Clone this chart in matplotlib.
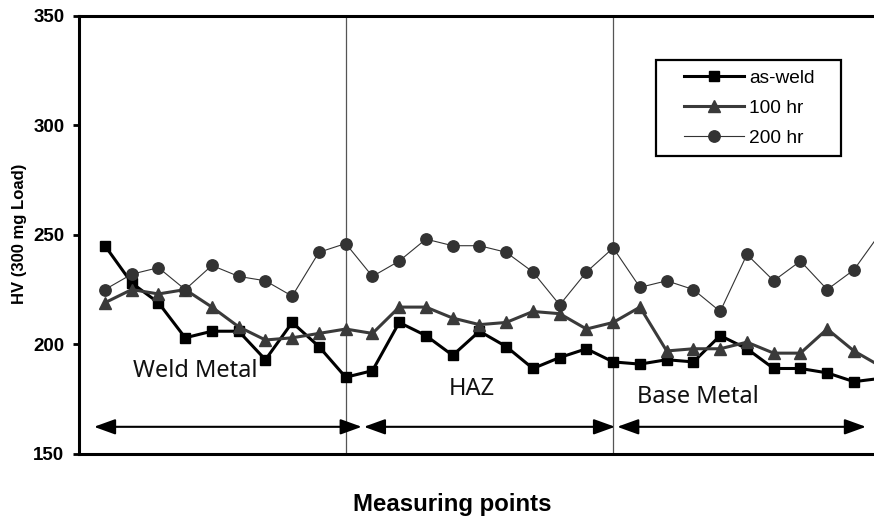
import matplotlib
matplotlib.use("Agg")
import matplotlib.pyplot as plt
from matplotlib.patches import Rectangle

# ---- data ----
points = list(range(30))
as_weld = [245, 228, 219, 203, 206, 206, 193, 210, 199, 185, 188, 210, 204, 195, 206,
           199, 189, 194, 198, 192, 191, 193, 192, 204, 198, 189, 189, 187, 183, 184.5]
hr100 = [219, 225, 223, 225, 217, 208, 202, 203, 205, 207, 205, 217, 217, 212, 209,
         210, 215, 214, 207, 210, 217, 197, 198, 198, 201, 196, 196, 207, 197, 190]
hr200 = [225, 232, 235, 225, 236, 231, 229, 222, 242, 246, 231, 238, 248, 245, 245,
         242, 233, 218, 233, 244, 226, 229, 225, 215, 241, 229, 238, 225, 234, 251]
series_names = ["as-weld", "100 hr", "200 hr"]
y_ticks = [150, 200, 250, 300, 350]
boundaries = [9, 19]
regions = ["Weld Metal", "HAZ", "Base Metal"]
region_spans = [(-0.41, 9.6), (9.68, 19.07), (19.15, 28.45)]
region_text_pos = [(1.05, 185.2), (12.86, 176.9), (19.89, 173.2)]
arrow_y = 162.4

W, H = 874, 522
fig = plt.figure(figsize=(W / 100, H / 100), dpi=100)
left, right, top, bottom = 79, 874, 15.5, 454
ax = fig.add_axes([left / W, 1 - bottom / H, (right - left) / W, (bottom - top) / H])

ax.set_xlim(-0.97, 28.75)
ax.set_ylim(150, 350)

for b in boundaries:
    ax.axvline(b, color="#555555", lw=0.9, zorder=1)

ax.plot(points, as_weld, color="black", lw=2.2, marker="s", ms=7.7,
        mfc="black", mec="black", label=series_names[0], zorder=3)
ax.plot(points, hr100, color="#3a3a3a", lw=2.2, marker="^", ms=8.5,
        mfc="#3a3a3a", mec="#3a3a3a", label=series_names[1], zorder=4)
ax.plot(points, hr200, color="#333333", lw=0.8, marker="o", ms=8.2,
        mfc="#333333", mec="#333333", label=series_names[2], zorder=5)

for (x0, x1) in region_spans:
    ax.annotate("", xy=(x1, arrow_y), xytext=(x0, arrow_y),
                arrowprops=dict(arrowstyle="<|-|>,head_length=0.65,head_width=0.235",
                                color="black", lw=1.5, shrinkA=0, shrinkB=0,
                                mutation_scale=20), zorder=2)

for name, (tx, ty) in zip(regions, region_text_pos):
    ax.text(tx, ty, name, fontsize=17, family="Noto Sans", color="#111111",
            ha="left", va="baseline", zorder=6)

ax.set_yticks(y_ticks)
ax.set_yticklabels([str(v) for v in y_ticks], fontsize=13.5, fontweight="bold",
                   family="Liberation Sans")
ax.set_xticks([])
ax.tick_params(axis="y", direction="out", length=4.5, width=2, pad=6)
for s in ["left", "top", "bottom"]:
    ax.spines[s].set_linewidth(2.2)
    ax.spines[s].set_color("black")
ax.spines["right"].set_visible(False)

# legend (frame drawn separately as a plain rectangle)
leg = ax.legend(loc="upper left",
                bbox_to_anchor=((684 - left) / (right - left), (bottom - 69.5) / (bottom - top)),
                borderaxespad=0, borderpad=0, frameon=False, handlelength=3.15,
                handletextpad=0.25, labelspacing=0.65,
                prop={"family": "Liberation Sans", "size": 13.8})
leg.set_zorder(10)
ax.add_patch(Rectangle((656 / W, 1 - 156 / H), (841 - 656) / W, (156 - 60) / H,
                       transform=fig.transFigure, clip_on=False, facecolor="white",
                       edgecolor="black", lw=1.6, zorder=9))

fig.text(19.3 / W, 1 - 234 / H, "HV (300 mg Load)", rotation=90, ha="center", va="center",
         fontsize=12, fontweight="bold", family="Liberation Sans")
fig.text(452 / W, 11 / H, "Measuring points", ha="center", va="baseline",
         fontsize=17.3, fontweight="bold", family="Liberation Sans")

fig.savefig("out.png", dpi=100)
